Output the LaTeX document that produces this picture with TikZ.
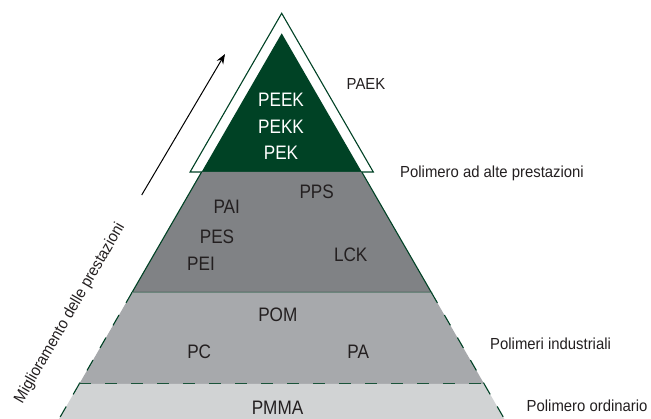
\documentclass[tikz,border=0pt]{standalone}
\usepackage{fontspec}
\setmainfont{Liberation Sans}
\newfontfamily\labfont[FakeStretch=0.88]{Liberation Sans}
\newfontfamily\sidefont[FakeStretch=0.93]{Liberation Sans}
\usetikzlibrary{arrows.meta}
\definecolor{dgreen}{RGB}{0,66,37}
\definecolor{greyA}{RGB}{128,130,133}
\definecolor{greyB}{RGB}{167,169,172}
\definecolor{greyC}{RGB}{209,211,212}
\definecolor{txt}{RGB}{35,31,32}
\begin{document}
\begin{tikzpicture}[x=1pt,y=-1pt,
  inlab/.style={inner sep=0pt,anchor=base,text=txt,font=\labfont\fontsize{19.5}{20}\selectfont},
  wlab/.style={inlab,text=white},
  sidelab/.style={inner sep=0pt,anchor=base west,text=txt,font=\sidefont\fontsize{16}{18}\selectfont},
  edge/.style={draw=dgreen,line width=1.1pt},
  dashedge/.style={draw=dgreen,line width=1.1pt,dash pattern=on 12pt off 14pt}]
\useasboundingbox (0,0) rectangle (651,419);
% geometry: apex (281.7,33.3), half-width slope 0.5774
\def\ax{281.7}
% outer PAEK outline triangle
\filldraw[fill=white,edge] (281.7,13.3) -- (373.3,172) -- (190.1,172) -- cycle;
% green triangle
\fill[dgreen] (281.7,33.3) -- (361.8,172) -- (201.6,172) -- cycle;
% dark grey trapezoid
\fill[greyA] (201.6,172) -- (361.8,172) -- (431.4,292.5) -- (132.0,292.5) -- cycle;
\draw[edge] (201.6,172) -- (132.0,292.5) -- (431.4,292.5) -- (361.8,172);
% middle trapezoid
\fill[greyB] (132.0,292.5) -- (431.4,292.5) -- (484.2,384) -- (79.2,384) -- cycle;
\draw[dashedge] (132.0,292.5) -- (79.2,384);
\draw[dashedge] (431.4,292.5) -- (484.2,384);
\draw[dashedge] (79.2,384) -- (484.2,384);
% bottom band
\fill[greyC] (79.2,384) -- (484.2,384) -- (504.4,419) -- (59.0,419) -- cycle;
\draw[dashedge] (79.2,384) -- (59.0,419);
\draw[dashedge] (484.2,384) -- (504.4,419);
% labels inside
\node[wlab] (peek) at (281,106.7) {PEEK};
\node[wlab] (pekk) at (281,133.3) {PEKK};
\node[wlab] (pek) at (281,160) {PEK};
\node[inlab] (pps) at (316.7,198.3) {PPS};
\node[inlab] (pai) at (226.7,214) {PAI};
\node[inlab] (pes) at (217,243.3) {PES};
\node[inlab] (pei) at (201,271) {PEI};
\node[inlab] (lck) at (350.7,261.7) {LCK};
\node[inlab] (pom) at (277.8,321.7) {POM};
\node[inlab] (pc) at (199.2,359) {PC};
\node[inlab] (pa) at (358.3,359) {PA};
\node[inlab] (pmma) at (277.5,414.3) {PMMA};
% side labels
\node[sidelab,anchor=base] (paek) at (366,89.3) {PAEK};
\node[sidelab] (high) at (400,177.7) {Polimero ad alte prestazioni};
\node[sidelab] (ind) at (490,349.3) {Polimeri industriali};
\node[sidelab] (ord) at (526.5,411.7) {Polimero ordinario};
% arrow and rotated label
\coordinate (atail) at (141.7,195);
\coordinate (ahead) at (225,54);
\draw[line width=1pt,-{Stealth[length=10pt,width=7.5pt]}] (atail) -- (ahead);
\node[inner sep=0pt,text=txt,font=\sidefont\fontsize{16}{18}\selectfont,rotate=60] (migl) at (70,313.3) {Miglioramento delle prestazioni};
\end{tikzpicture}
\end{document}
